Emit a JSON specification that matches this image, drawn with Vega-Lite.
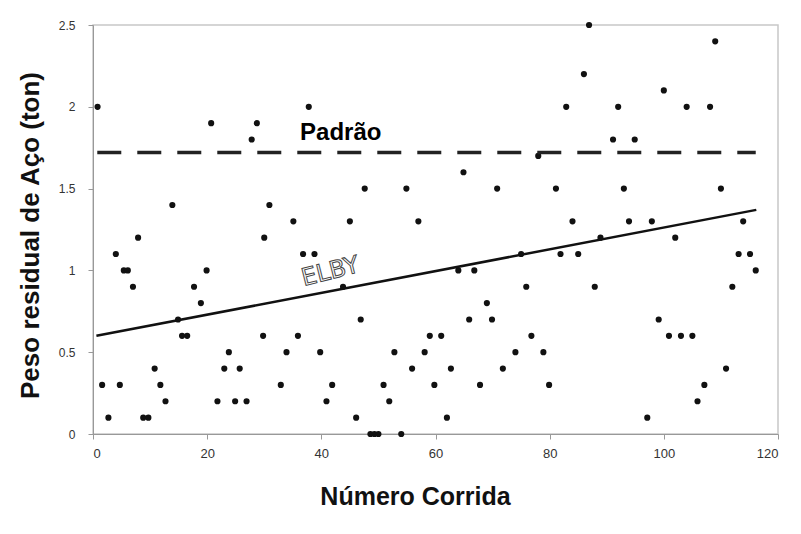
{
  "$schema": "https://vega.github.io/schema/vega-lite/v6.json",
  "autosize": "none",
  "width": 685,
  "height": 409,
  "padding": {"left": 93, "top": 25, "right": 23, "bottom": 100},
  "background": "white",
  "config": {
    "view": {"stroke": "#c8c8c8", "strokeWidth": 1.5},
    "font": "Liberation Sans"
  },
  "datasets": {
    "pts": [
      {"x":0.8,"y":2.0},{"x":1.6,"y":0.3},{"x":2.7,"y":0.1},{"x":4.0,"y":1.1},{"x":4.7,"y":0.3},
      {"x":5.4,"y":1.0},{"x":6.1,"y":1.0},{"x":7.0,"y":0.9},{"x":7.9,"y":1.2},{"x":8.8,"y":0.1},
      {"x":9.7,"y":0.1},{"x":10.8,"y":0.4},{"x":11.8,"y":0.3},{"x":12.7,"y":0.2},{"x":13.9,"y":1.4},
      {"x":14.9,"y":0.7},{"x":15.6,"y":0.6},{"x":16.5,"y":0.6},{"x":17.7,"y":0.9},{"x":18.9,"y":0.8},
      {"x":19.9,"y":1.0},{"x":20.7,"y":1.9},{"x":21.8,"y":0.2},{"x":23.0,"y":0.4},{"x":23.8,"y":0.5},
      {"x":24.9,"y":0.2},{"x":25.7,"y":0.4},{"x":26.9,"y":0.2},{"x":27.8,"y":1.8},{"x":28.7,"y":1.9},
      {"x":29.8,"y":0.6},{"x":30.0,"y":1.2},{"x":30.9,"y":1.4},{"x":32.9,"y":0.3},{"x":33.9,"y":0.5},
      {"x":35.1,"y":1.3},{"x":35.9,"y":0.6},{"x":36.8,"y":1.1},{"x":37.8,"y":2.0},{"x":38.8,"y":1.1},
      {"x":39.8,"y":0.5},{"x":40.9,"y":0.2},{"x":41.9,"y":0.3},{"x":43.8,"y":0.9},{"x":45.0,"y":1.3},
      {"x":46.1,"y":0.1},{"x":46.9,"y":0.7},{"x":47.6,"y":1.5},{"x":48.6,"y":0.0},{"x":49.3,"y":0.0},
      {"x":50.0,"y":0.0},{"x":50.9,"y":0.3},{"x":51.9,"y":0.2},{"x":52.8,"y":0.5},{"x":54.0,"y":0.0},
      {"x":54.9,"y":1.5},{"x":55.9,"y":0.4},{"x":57.0,"y":1.3},{"x":58.1,"y":0.5},{"x":59.0,"y":0.6},
      {"x":59.8,"y":0.3},{"x":61.0,"y":0.6},{"x":62.0,"y":0.1},{"x":62.7,"y":0.4},{"x":64.0,"y":1.0},
      {"x":64.9,"y":1.6},{"x":65.9,"y":0.7},{"x":66.8,"y":1.0},{"x":67.8,"y":0.3},{"x":69.0,"y":0.8},
      {"x":69.9,"y":0.7},{"x":70.8,"y":1.5},{"x":71.8,"y":0.4},{"x":74.0,"y":0.5},{"x":75.0,"y":1.1},
      {"x":75.9,"y":0.9},{"x":76.8,"y":0.6},{"x":78.0,"y":1.7},{"x":78.9,"y":0.5},{"x":79.9,"y":0.3},
      {"x":81.1,"y":1.5},{"x":81.9,"y":1.1},{"x":82.9,"y":2.0},{"x":84.0,"y":1.3},{"x":85.0,"y":1.1},
      {"x":86.0,"y":2.2},{"x":86.9,"y":2.5},{"x":87.9,"y":0.9},{"x":88.9,"y":1.2},{"x":91.1,"y":1.8},
      {"x":92.0,"y":2.0},{"x":93.0,"y":1.5},{"x":93.9,"y":1.3},{"x":94.9,"y":1.8},{"x":97.1,"y":0.1},
      {"x":97.9,"y":1.3},{"x":99.1,"y":0.7},{"x":100.0,"y":2.1},{"x":100.9,"y":0.6},{"x":102.0,"y":1.2},
      {"x":103.0,"y":0.6},{"x":104.0,"y":2.0},{"x":105.0,"y":0.6},{"x":105.9,"y":0.2},{"x":107.1,"y":0.3},
      {"x":108.1,"y":2.0},{"x":109.0,"y":2.4},{"x":110.0,"y":1.5},{"x":110.9,"y":0.4},{"x":112.0,"y":0.9},
      {"x":113.1,"y":1.1},{"x":113.9,"y":1.3},{"x":115.1,"y":1.1},{"x":116.1,"y":1.0}
    ],
    "elby": [{"x":0.6,"y":0.60},{"x":116.2,"y":1.37}],
    "padrao": [{"x":0.75,"x2":116.1,"y":1.72}],
    "labels": [
      {"x":43.4,"y":1.84,"t":"Padrão","k":"p"},
      {"x":41.6,"y":0.99,"t":"ELBY","k":"e"}
    ]
  },
  "layer": [
    {
      "data": {"name": "pts"},
      "mark": {"type": "point", "filled": true, "color": "#111", "size": 38, "opacity": 1},
      "encoding": {
        "x": {"field": "x", "type": "quantitative",
              "scale": {"domain": [0, 120], "nice": false},
              "axis": {"values": [0,20,40,60,80,100,120], "title": "Número Corrida",
                       "grid": false, "domainColor": "#999", "tickColor": "#999", "tickSize": 5,
                       "labelColor": "#333", "labelFontSize": 13, "labelPadding": 8,
                       "titleFontSize": 25, "titleFontWeight": "bold", "titleColor": "#111",
                       "titlePadding": 24, "titleX": 322, "titleAnchor": "middle"}},
        "y": {"field": "y", "type": "quantitative",
              "scale": {"domain": [0, 2.5], "nice": false},
              "axis": {"values": [0,0.5,1,1.5,2,2.5], "format": ".1~f", "title": "Peso residual de Aço (ton)",
                       "grid": false, "domainColor": "#999", "tickColor": "#999", "tickSize": 5,
                       "labelColor": "#333", "labelFontSize": 12, "labelPadding": 13,
                       "titleFontSize": 26, "titleFontWeight": "bold", "titleColor": "#111",
                       "titlePadding": 15, "titleY": 210, "titleAnchor": "middle"}}
      }
    },
    {
      "data": {"name": "elby"},
      "mark": {"type": "line", "color": "#111", "strokeWidth": 2.5},
      "encoding": {
        "x": {"field": "x", "type": "quantitative"},
        "y": {"field": "y", "type": "quantitative"}
      }
    },
    {
      "data": {"name": "padrao"},
      "mark": {"type": "rule", "color": "#222", "strokeWidth": 3.5, "strokeDash": [24, 16]},
      "encoding": {
        "x": {"field": "x", "type": "quantitative"},
        "x2": {"field": "x2"},
        "y": {"field": "y", "type": "quantitative"}
      }
    },
    {
      "data": {"name": "labels"},
      "transform": [{"filter": "datum.k == 'p'"}],
      "mark": {"type": "text", "fontSize": 24, "fontWeight": "bold", "color": "#000", "align": "center", "baseline": "middle", "font": "Liberation Sans"},
      "encoding": {
        "x": {"field": "x", "type": "quantitative"},
        "y": {"field": "y", "type": "quantitative"},
        "text": {"field": "t"}
      }
    },
    {
      "data": {"name": "labels"},
      "transform": [{"filter": "datum.k == 'e'"}],
      "mark": {"type": "text", "fontSize": 24, "fill": "#ffffff", "stroke": "#444444", "strokeWidth": 1, "align": "center", "baseline": "middle", "angle": 346, "font": "DejaVu Sans"},
      "encoding": {
        "x": {"field": "x", "type": "quantitative"},
        "y": {"field": "y", "type": "quantitative"},
        "text": {"field": "t"}
      }
    }
  ]
}
